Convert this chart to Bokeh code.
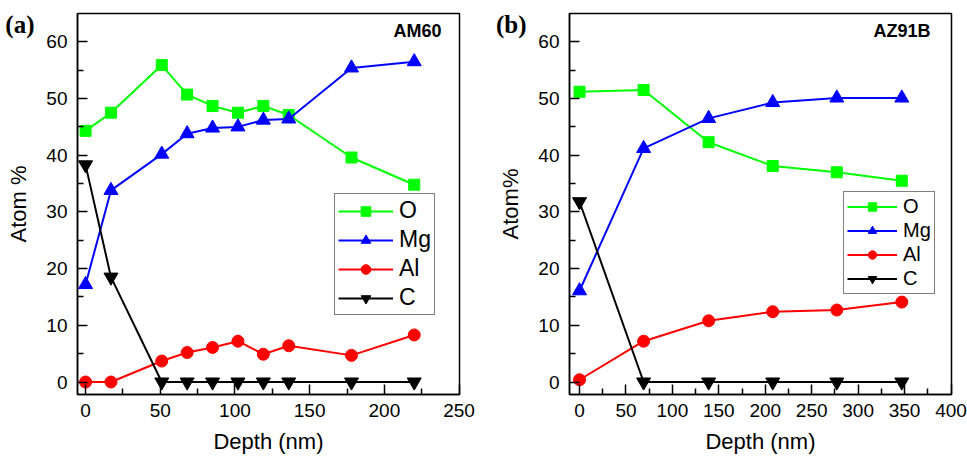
from bokeh.plotting import figure
from bokeh.layouts import row
from bokeh.models import Legend, LegendItem, Label, Range1d, FixedTicker, LinearAxis
from bokeh.embed import file_html
from bokeh.resources import INLINE

FONT = "Liberation Sans"

# Panel (a) AM60
am_depth = [0, 17, 51, 68, 85, 102, 119, 136, 178, 220]
am_O = [44.3, 47.5, 55.9, 50.7, 48.7, 47.5, 48.7, 47.1, 39.6, 34.8]
am_Mg = [17.2, 33.8, 40.2, 43.8, 44.8, 45.0, 46.2, 46.4, 55.4, 56.5]
am_Al = [0, 0, 3.7, 5.2, 6.1, 7.2, 4.9, 6.4, 4.7, 8.3]
am_C = [38.3, 18.5, 0, 0, 0, 0, 0, 0, 0, 0]

# Panel (b) AZ91B
az_depth = [0, 69, 139, 208, 277, 347]
az_O = [51.2, 51.5, 42.3, 38.1, 37.0, 35.5]
az_Mg = [16.1, 41.2, 46.5, 49.3, 50.1, 50.1]
az_Al = [0.4, 7.2, 10.8, 12.4, 12.7, 14.1]
az_C = [31.8, 0, 0, 0, 0, 0]

series_names = ["O", "Mg", "Al", "C"]
colors = ["#00ff00", "#0000ff", "#ff0000", "#000000"]
markers = ["square", "triangle", "circle", "inverted_triangle"]
msizes = [11, 14, 12, 14]

y_ticks = [0, 10, 20, 30, 40, 50, 60]
tag_pos = 63


def make_panel(depth, ys, xr, xticks, ylabel, tag, alloy, width, bl, br,
               leg_loc, leg_font, leg_lh, leg_gw, leg_sp, alloy_x):
    p = figure(width=width, height=458, output_backend="svg", toolbar_location=None,
               x_range=Range1d(*xr), y_range=Range1d(-2.2, 65),
               min_border_left=bl, min_border_right=br,
               min_border_top=13, min_border_bottom=64)
    p.grid.visible = False
    p.outline_line_color = "black"
    p.outline_line_width = 1.5
    p.background_fill_color = "white"
    p.border_fill_color = "white"

    items = []
    for name, y, c, m, s in zip(series_names, ys, colors, markers, msizes):
        r1 = p.line(depth, y, line_color=c, line_width=2)
        r2 = p.scatter(depth, y, marker=m, size=s, fill_color=c, line_color=c)
        items.append(LegendItem(label=name, renderers=[r1, r2]))

    leg = Legend(items=items, location=leg_loc,
                 label_text_font=FONT, label_text_font_size=leg_font,
                 label_text_color="black",
                 label_height=leg_lh, glyph_height=leg_lh, glyph_width=leg_gw,
                 spacing=leg_sp, padding=3, margin=0, label_standoff=6,
                 border_line_color="black", border_line_width=1,
                 background_fill_color="white", background_fill_alpha=1)
    p.add_layout(leg, "center")

    p.xaxis.ticker = FixedTicker(ticks=xticks,
                                 minor_ticks=[t + (xticks[1] - xticks[0]) / 2 for t in xticks[:-1]])
    p.yaxis.ticker = FixedTicker(ticks=y_ticks, minor_ticks=[5, 15, 25, 35, 45, 55])
    for ax in (p.xaxis[0], p.yaxis[0]):
        ax.major_tick_in = 10
        ax.major_tick_out = 0
        ax.minor_tick_in = 6
        ax.minor_tick_out = 0
        ax.axis_line_width = 1.5
        ax.major_tick_line_width = 1.5
        ax.minor_tick_line_width = 1.5
        ax.major_label_text_font = FONT
        ax.major_label_text_font_size = "19px"
        ax.major_label_text_color = "black"
        ax.axis_label_text_font = FONT
        ax.axis_label_text_font_size = "22px"
        ax.axis_label_text_font_style = "normal"
        ax.axis_label_text_color = "black"
    p.xaxis.axis_label = "Depth (nm)"
    p.yaxis.axis_label = ylabel
    p.xaxis.major_label_standoff = 9
    p.yaxis.major_label_standoff = 10
    p.xaxis.axis_label_standoff = 9
    p.yaxis.axis_label_standoff = 12

    # panel tag "(a)"/"(b)" drawn as the single label of an extra, line-less left axis
    tag_axis = LinearAxis(ticker=FixedTicker(ticks=[tag_pos], minor_ticks=[]),
                          major_label_overrides={tag_pos: tag},
                          axis_line_color=None, major_tick_line_color=None,
                          minor_tick_line_color=None,
                          major_tick_in=0, major_tick_out=0,
                          minor_tick_in=0, minor_tick_out=0,
                          major_label_standoff=-31,
                          major_label_text_font="Liberation Serif",
                          major_label_text_font_style="bold",
                          major_label_text_font_size="25px",
                          major_label_text_color="black")
    p.add_layout(tag_axis, "left")

    p.add_layout(Label(x=alloy_x, y=354, x_units="screen", y_units="screen", text=alloy,
                       text_font=FONT, text_font_style="bold", text_align="right",
                       text_font_size="18px", text_color="black"))
    return p


pa = make_panel(am_depth, [am_O, am_Mg, am_Al, am_C], (-5.4, 250.3),
                [0, 50, 100, 150, 200, 250], "Atom %", "(a)", "AM60",
                484, 77, 25, (257, 79), "23px", 24, 55, 2, 364)
pb = make_panel(az_depth, [az_O, az_Mg, az_Al, az_C], (-10.8, 400.5),
                [0, 50, 100, 150, 200, 250, 300, 350, 400], "Atom%", "(b)", "AZ91B",
                483, 85, 16, (274, 100), "20px", 21, 50, 1, 361)

layout = row(pa, pb)
open("out.html", "w").write(file_html(layout, INLINE))
